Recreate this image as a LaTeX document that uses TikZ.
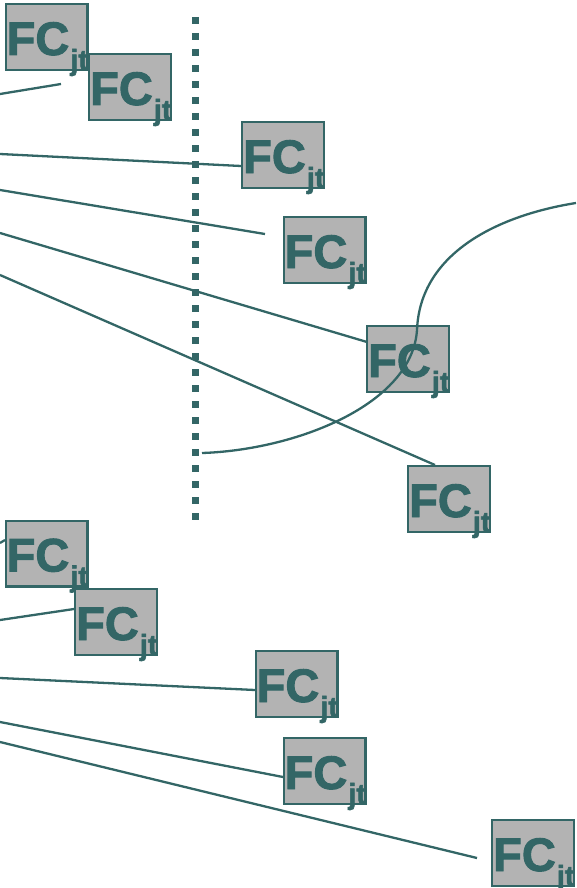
\documentclass[tikz,border=0pt]{standalone}
\usepackage{fontspec}
\setmainfont{Liberation Sans}
\newfontfamily\fcfont{Liberation Sans Bold}[FakeBold=2]
\definecolor{teal1}{HTML}{336666}
\definecolor{boxgray}{HTML}{B3B3B3}
\tikzset{
  fcbox/.style={draw=teal1, fill=boxgray, line width=2.4pt, minimum width=81.6pt, minimum height=65.6pt, inner sep=0pt,
    label={[anchor=base west, xshift=2pt, yshift=16pt, inner sep=0pt, text=teal1, label distance=0pt]south west:{\fcfont\fontsize{47}{47}\selectfont FC\kern1pt\raisebox{-15pt}{\fontsize{29}{29}\selectfont jt}}}},
  conn/.style={draw=teal1, line width=2.3pt},
  dotline/.style={draw=teal1, line width=7pt, dash pattern=on 7pt off 9pt},
}
\begin{document}
\begin{tikzpicture}[x=1pt,y=-1pt]
\useasboundingbox (0,0) rectangle (576,888);
% free ends
\coordinate (s1) at (0,94);   \coordinate (e1) at (61,84);
\coordinate (s2) at (0,154);  \coordinate (e2) at (241,166);
\coordinate (s3) at (0,190);  \coordinate (e3) at (265,234);
\coordinate (s4) at (0,233);  \coordinate (e4) at (367,342);
\coordinate (s5) at (0,275);  \coordinate (e5) at (435,465);
\coordinate (s7) at (0,543);  \coordinate (e7) at (5,540);
\coordinate (s8) at (0,620);  \coordinate (e8) at (74,609);
\coordinate (s9) at (0,678);  \coordinate (e9) at (255,690);
\coordinate (s10) at (0,722); \coordinate (e10) at (283,777);
\coordinate (s11) at (0,742); \coordinate (e11) at (477,858);
\coordinate (d1) at (195,17); \coordinate (d2) at (195,521);
\coordinate (c1) at (202,453); \coordinate (c2) at (417,330); \coordinate (c3) at (576,203);
% connectors
\draw[conn] (s1) -- (e1);
\draw[conn] (s2) -- (e2);
\draw[conn] (s3) -- (e3);
\draw[conn] (s4) -- (e4);
\draw[conn] (s5) -- (e5);
\draw[conn] (s7) -- (e7);
\draw[conn] (s8) -- (e8);
\draw[conn] (s9) -- (e9);
\draw[conn] (s10) -- (e10);
\draw[conn] (s11) -- (e11);
\draw[dotline] (d1) -- (d2);
% boxes
\node[fcbox] (b1) at (46.5,37) {};
\node[fcbox] (b2) at (130,87) {};
\node[fcbox] (b3) at (283,155) {};
\node[fcbox] (b4) at (324.5,250) {};
\node[fcbox] (b5) at (408,359) {};
\node[fcbox] (b6) at (449,499) {};
\node[fcbox] (b7) at (46.5,553.5) {};
\node[fcbox] (b8) at (116,622) {};
\node[fcbox] (b9) at (296.5,684) {};
\node[fcbox] (b10) at (324.5,771) {};
\node[fcbox] (b11) at (533,853) {};
% curve
\draw[conn] (c1) .. controls (295,450) and (412,405) .. (c2) .. controls (420,252) and (500,215) .. (c3);
\end{tikzpicture}
\end{document}
